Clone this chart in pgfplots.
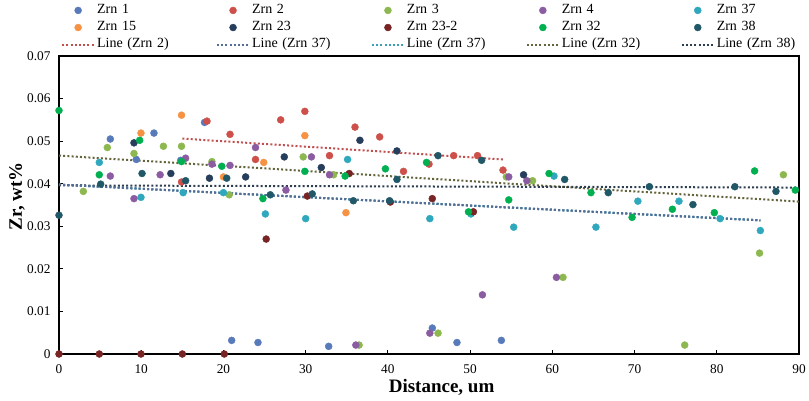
\documentclass[border=0pt]{standalone}
\usepackage{fontspec}
\setmainfont{Liberation Serif}
\usepackage{pgfplots}
\pgfplotsset{compat=1.18}
\definecolor{cA}{RGB}{88,122,186}
\definecolor{cB}{RGB}{206,80,74}
\definecolor{cC}{RGB}{141,184,80}
\definecolor{cD}{RGB}{140,92,162}
\definecolor{cE}{RGB}{47,168,190}
\definecolor{cF}{RGB}{245,146,68}
\definecolor{cG}{RGB}{38,62,92}
\definecolor{cH}{RGB}{120,36,36}
\definecolor{cI}{RGB}{0,176,80}
\definecolor{cJ}{RGB}{33,88,104}
\definecolor{lB}{RGB}{192,80,77}
\definecolor{lE}{RGB}{84,108,150}
\definecolor{lE2}{RGB}{60,160,180}
\definecolor{lI}{RGB}{100,100,60}
\definecolor{lJ}{RGB}{44,62,80}
\pgfplotsset{
  mk/.style={only marks, mark=*, mark size=3.5pt, color=#1, mark options={fill=#1, draw=#1},
    legend image code/.code={\draw[mark repeat=2,mark phase=2,##1] plot coordinates {(0pt,0pt)(16pt,0pt)(32pt,0pt)};}},
  tl/.style={no marks, color=#1, line width=2pt, dash pattern=on 2pt off 2.2pt,
    legend image code/.code={\draw[##1] (0pt,0pt) -- (32pt,0pt);}},
}
\begin{document}
\begin{tikzpicture}
\path[use as bounding box] (-59pt,-46pt) rectangle (750pt,354pt);
\begin{axis}[
  at={(0pt,0pt)}, anchor=south west,
  scale only axis, width=740pt, height=298pt,
  xmin=0, xmax=90, ymin=0, ymax=0.07,
  clip=false,
  scaled y ticks=false,
  font=\fontsize{13.3pt}{15pt}\selectfont,
  axis line style={black, line width=1.3pt},
  tick style={black, line width=0.8pt}, tick align=inside,
  major tick length=4pt,
  xtick={0,10,20,30,40,50,60,70,80,90},
  xticklabels={0,10,20,30,40,50,60,70,80,90},
  ytick={0,0.01,0.02,0.03,0.04,0.05,0.06,0.07},
  yticklabels={0,0.01,0.02,0.03,0.04,0.05,0.06,0.07},
  xticklabel style={yshift=-7pt},
  yticklabel style={xshift=-5pt},
  /pgf/number format/assume math mode=true,
  xtick pos=bottom, ytick pos=left,
  xlabel={\bfseries Distance, um},
  ylabel={\bfseries Zr, wt\%},
  xlabel style={at={(axis description cs:0.517,-0.111)}, anchor=center, font=\fontsize{19pt}{21pt}\selectfont},
  ylabel style={at={(axis description cs:-0.0568,0.53)}, anchor=center, font=\fontsize{19pt}{21pt}\selectfont},
  legend columns=5,
  legend style={draw=none, fill=none, at={(axis description cs:-0.0014,1.188)}, anchor=north west,
    nodes={text width=116.9pt, align=left, text height=9.5pt, text depth=3pt, inner sep=2pt},
    row sep=0.6pt, font=\fontsize{14pt}{16pt}\selectfont},
  legend cell align=left,
]
\addplot[mk=cA] coordinates {
(6.24,0.0505)(9.4,0.0457)(11.55,0.0519)(14.8,0.0455)(17.7,0.0544)(21.0,0.0032)(24.2,0.0027)(32.8,0.0018)(45.4,0.0061)(48.4,0.0027)(53.8,0.0032)};
\addlegendentry{Zrn 1}
\addplot[mk=cB] coordinates {
(14.9,0.0404)(18.0,0.0547)(20.8,0.0516)(23.9,0.0457)(26.96,0.0550)(29.9,0.0570)(32.9,0.0466)(36.0,0.0533)(39.0,0.0510)(41.9,0.0429)(45.0,0.0446)(48.0,0.0466)(50.9,0.0466)(54.0,0.0432)};
\addlegendentry{Zrn 2}
\addplot[mk=cC] coordinates {
(2.96,0.0382)(5.88,0.0485)(9.12,0.0471)(12.7,0.0488)(14.9,0.0488)(18.6,0.0452)(20.7,0.0374)(29.7,0.0463)(33.4,0.0421)(36.5,0.0021)(46.1,0.0049)(54.4,0.0416)(57.6,0.0407)(61.3,0.0180)(76.1,0.0021)(85.2,0.0237)(88.1,0.0421)};
\addlegendentry{Zrn 3}
\addplot[mk=cD] coordinates {
(6.24,0.0418)(9.12,0.0365)(12.3,0.0421)(15.4,0.0460)(18.6,0.0446)(20.8,0.0443)(23.9,0.0485)(27.6,0.0385)(30.7,0.0463)(32.9,0.0421)(36.1,0.0021)(45.1,0.0049)(51.5,0.0139)(54.7,0.0416)(56.9,0.0407)(60.5,0.0180)};
\addlegendentry{Zrn 4}
\addplot[mk=cE] coordinates {
(4.9,0.0450)(9.97,0.0368)(15.1,0.0379)(20.0,0.0379)(25.1,0.0329)(30.0,0.0318)(35.1,0.0457)(45.1,0.0318)(50.1,0.0329)(55.3,0.0298)(60.2,0.0418)(65.3,0.0298)(70.4,0.0359)(75.4,0.0359)(80.4,0.0318)(85.3,0.0290)};
\addlegendentry{Zrn 37}
\addplot[mk=cF] coordinates {
(9.97,0.0519)(14.9,0.0561)(20.0,0.0416)(24.9,0.0450)(29.9,0.0513)(34.9,0.0332)};
\addlegendentry{Zrn 15}
\addplot[mk=cG] coordinates {
(9.12,0.0496)(13.6,0.0424)(18.3,0.0413)(22.7,0.0416)(27.4,0.0463)(31.9,0.0438)(36.6,0.0502)(41.1,0.0477)(56.5,0.0421)};
\addlegendentry{Zrn 23}
\addplot[mk=cH] coordinates {
(0,0)(4.9,0)(9.97,0)(15.0,0)(20.1,0)(25.2,0.0270)(30.2,0.0371)(35.3,0.0424)(40.3,0.0357)(45.4,0.0365)(50.4,0.0334)};
\addlegendentry{Zrn 23-2}
\addplot[mk=cI] coordinates {
(0,0.0572)(4.9,0.0421)(9.81,0.0502)(14.9,0.0452)(19.8,0.0441)(24.8,0.0365)(29.9,0.0429)(34.8,0.0418)(39.7,0.0435)(44.7,0.0450)(49.8,0.0334)(54.7,0.0362)(59.6,0.0424)(64.7,0.0379)(69.7,0.0321)(74.6,0.0340)(79.7,0.0332)(84.6,0.0430)(89.55,0.0385)};
\addlegendentry{Zrn 32}
\addplot[mk=cJ] coordinates {
(0,0.0326)(5.07,0.0399)(10.1,0.0424)(15.4,0.0407)(20.4,0.0413)(25.7,0.0374)(30.8,0.0376)(35.8,0.0360)(40.2,0.0360)(41.1,0.0410)(46.1,0.0466)(51.4,0.0455)(61.5,0.0410)(66.8,0.0379)(71.8,0.0393)(77.1,0.0351)(82.2,0.0393)(87.2,0.0382)};
\addlegendentry{Zrn 38}
\addplot[tl=lB] coordinates {(15,0.0506)(54,0.0457)};
\addlegendentry{Line (Zrn 2)}
\addplot[tl=lE] coordinates {(0,0.0398)(85.3,0.0314)};
\addlegendentry{Line (Zrn 37)}
\addplot[tl=lE2] coordinates {(0,0.0398)(85.3,0.0314)};
\addlegendentry{Line (Zrn 37)}
\addplot[tl=lI] coordinates {(0,0.0466)(90,0.0358)};
\addlegendentry{Line (Zrn 32)}
\addplot[tl=lJ] coordinates {(0,0.0396)(90,0.0391)};
\addlegendentry{Line (Zrn 38)}
\addplot[tl=lE, forget plot] coordinates {(0,0.0398)(85.3,0.0314)};
\end{axis}
\end{tikzpicture}
\end{document}
